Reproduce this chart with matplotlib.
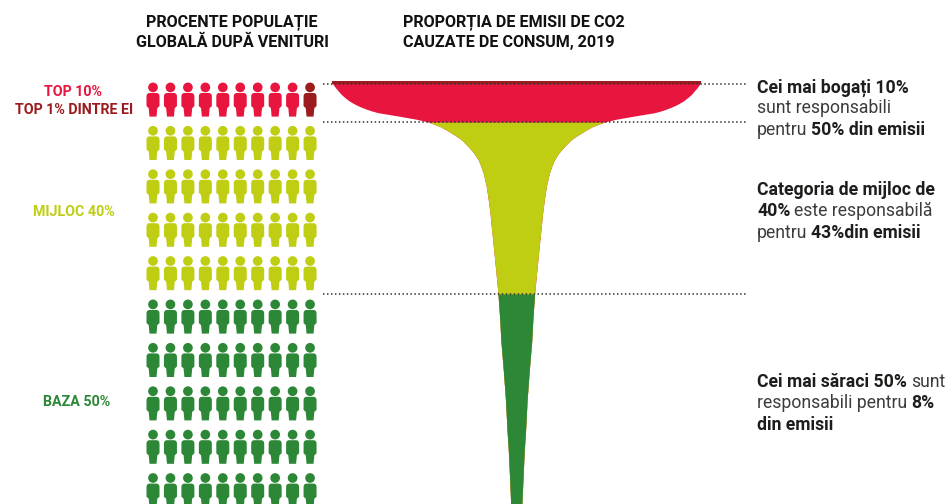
import matplotlib
matplotlib.use("Agg")
import matplotlib.pyplot as plt
from matplotlib.path import Path
from matplotlib.patches import PathPatch, Circle

# ---- data ----
group_labels = ["TOP 10%", "TOP 1% DINTRE EI", "MIJLOC 40%", "BAZA 50%"]
row_groups = ["top", "mid", "mid", "mid", "mid", "low", "low", "low", "low", "low"]
rich_in_top_row = 9
funnel_y = [81, 84.3, 87.5, 91, 94.5, 97.7, 101, 104.3, 107, 109.3, 111, 112.7, 114.3, 116, 119.3, 122,
            124, 126.7, 130, 133.3, 136.5, 140, 146.7, 153.3, 160, 166.7, 173.3, 186.7, 200, 213.3, 226.7,
            240, 250, 270, 294, 320, 340, 370, 400, 430, 450, 480, 504]
funnel_half = [184.5, 183.3, 181, 178, 175, 171.3, 167, 161.3, 155.5, 149.6, 144.5, 138.3, 128.5, 118.3, 99.6, 88.3,
               83, 76, 70, 64.6, 59.5, 54.6, 48, 42.3, 38, 35.3, 33, 30, 28, 26.3, 25,
               23.6, 22.6, 20.6, 18.3, 16.5, 15.5, 13, 10.8, 9.3, 8, 6.6, 5.6]
top1_band_y = [80.5, 83.5]
mid_start_y = 122
low_start_y = 294
dotted_y = [84, 122, 294]

RED = "#E8153F"; DARK = "#9B1B1E"; YEL = "#BFCE12"; GRN = "#2C8737"; INK = "#1d1d1b"; GREY = "#3c3c3c"
FONT = "Roboto"

fig = plt.figure(figsize=(9.51, 5.04), dpi=100)
ax = fig.add_axes([0, 0, 1, 1])
ax.set_xlim(0, 951); ax.set_ylim(504, 0); ax.axis("off")

# funnel
cx = 516.3
def section(y0, color):
    ys = [y for y in funnel_y if y >= y0]
    hs = [h for y, h in zip(funnel_y, funnel_half) if y >= y0]
    ax.fill_betweenx(ys, [cx - h for h in hs], [cx + h for h in hs], color=color, lw=0, zorder=2)
section(funnel_y[0], RED)
section(mid_start_y, YEL)
section(low_start_y, GRN)
ax.fill_between([cx - funnel_half[0], cx + funnel_half[0]], top1_band_y[0], top1_band_y[1], color=DARK, lw=0, zorder=3)

for y in dotted_y:
    ax.plot([323, 746], [y, y], color="#333333", lw=1.1, ls=(0, (1, 1.6)), zorder=4)

# people
col_x = [153 + 17.45 * i for i in range(10)]
row_top = [82.6 + 43.4 * i for i in range(10)]
colors = {"top": RED, "mid": YEL, "low": GRN}
def body_path(x, y):
    w, l, b = 6.5, 4.3, 3.5
    s, c, h, k, e = y + 10.4, y + 14, y + 23.5, y + 25.5, y + 34
    v = [(x - w + 3.2, s), (x + w - 3.2, s), (x + w, s), (x + w, c), (x + w, h), (x + l, k),
         (x + b, e), (x - b, e), (x - l, k), (x - w, h), (x - w, c), (x - w, s), (x - w + 3.2, s), (x - w + 3.2, s)]
    cd = [Path.MOVETO, Path.LINETO, Path.CURVE3, Path.CURVE3, Path.LINETO, Path.LINETO,
          Path.LINETO, Path.LINETO, Path.LINETO, Path.LINETO, Path.LINETO, Path.CURVE3, Path.CURVE3, Path.CLOSEPOLY]
    return Path(v, cd)
for r, (yt, g) in enumerate(zip(row_top, row_groups)):
    for i, x in enumerate(col_x):
        col = colors[g]
        if g == "top" and i >= rich_in_top_row:
            col = DARK
        ax.add_patch(Circle((x, yt + 4.8), 4.85, fc=col, ec="none", zorder=2))
        ax.add_patch(PathPatch(body_path(x, yt), fc=col, ec="none", zorder=2))

# group labels
lab = dict(ha="center", va="center", fontfamily=FONT, fontweight="bold", fontsize=10.3)
ax.text(73, 92, group_labels[0], color=RED, **lab)
ax.text(74, 110.5, group_labels[1], color=DARK, **lab)
ax.text(74, 212, group_labels[2], color=YEL, **lab)
ax.text(77, 402, group_labels[3], color=GRN, **lab)

# titles
tt = dict(va="center", fontfamily=FONT, fontweight="bold", fontsize=11.6, color="#111111")
ax.text(231.5, 22, "PROCENTE POPULAȚIE", ha="center", **tt)
ax.text(232, 42, "GLOBALĂ DUPĂ VENITURI", ha="center", **tt)
ax.text(403, 22, "PROPORȚIA DE EMISII DE CO2", ha="left", **tt)
ax.text(403, 43, "CAUZATE DE CONSUM, 2019", ha="left", **tt)

# rich annotations
fig.canvas.draw()
rend = fig.canvas.get_renderer()
def runs(x, y, parts):
    for s, bold in parts:
        t = ax.text(x, y, s, va="center", ha="left", fontfamily=FONT, fontsize=12.7,
                    fontweight="bold" if bold else "normal", color=INK if bold else GREY)
        x = t.get_window_extent(rend).x1 + 4
notes = [
    (88, [("Cei mai bogați 10%", True)]),
    (108, [("sunt responsabili", False)]),
    (130, [("pentru", False), ("50% din emisii", True)]),
    (190, [("Categoria de mijloc de", True)]),
    (211, [("40%", True), ("este responsabilă", False)]),
    (233, [("pentru", False), ("43%din emisii", True)]),
    (382, [("Cei mai săraci 50%", True), ("sunt", False)]),
    (403, [("responsabili pentru", False), ("8%", True)]),
    (425, [("din emisii", True)]),
]
for y, parts in notes:
    runs(757, y, parts)

fig.savefig("out.png", dpi=100)
